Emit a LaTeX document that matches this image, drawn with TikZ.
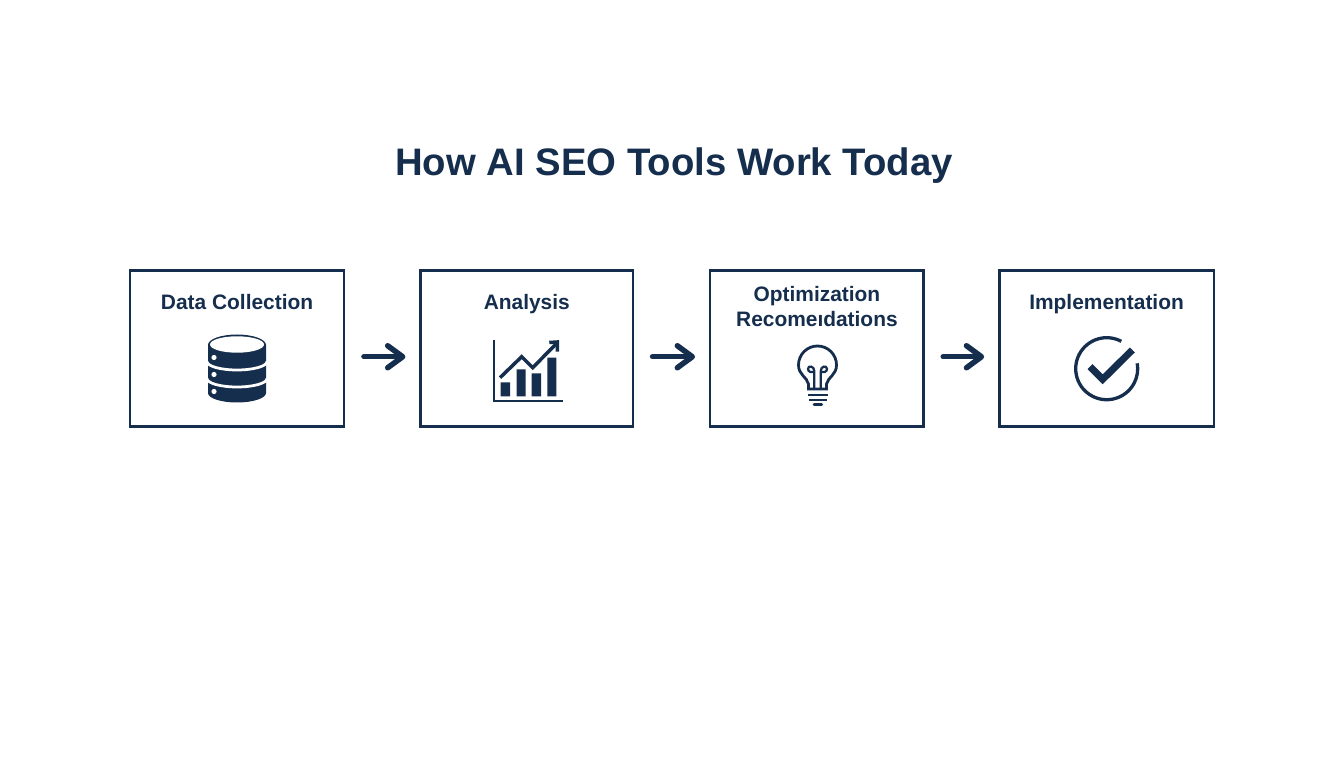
\documentclass[tikz,border=0pt]{standalone}
\usepackage{fontspec}
\setmainfont{Liberation Sans}
\usetikzlibrary{positioning,arrows.meta}
\definecolor{navy}{HTML}{162E4D}

\begin{document}
\begin{tikzpicture}[x=0.2mm,y=-0.2mm]
\tikzstyle{box}=[rectangle, draw=navy, line width=0.48mm, minimum width=42.85mm, minimum height=31.25mm]
\tikzstyle{heading}=[text=navy, font=\fontsize{21.8}{25}\selectfont\bfseries]
\tikzstyle{boxtext}=[text=navy, inner sep=0pt, align=center, font=\fontsize{11.9}{14.2}\selectfont\bfseries]
\tikzstyle{connect}=[draw=navy, line width=1.1mm, line cap=round, -{Straight Barb[length=3mm,width=4.4mm,round]}, shorten <=3.7mm, shorten >=2.8mm]
\tikzstyle{thin}=[draw=navy, line width=0.56mm]
\useasboundingbox (0,0) rectangle (1344,768);
\fill[white] (0,0) rectangle (1344,768);
  \node[heading] (title) at (674,166) {How AI SEO Tools Work Today};
  \node[box] (data) at (237.1,348.5) { };
  \node[box, minimum width=42.45mm] (analysis) [right =14.8mm of data] { };
  \node[box, minimum width=42.65mm] (optim) [right =15mm of analysis] { };
  \node[box] (impl) [right =14.7mm of optim] { };
  \node[boxtext] (datat) [below =5mm of data.north] {Data Collection};
  \node[boxtext] (analysist) [below =5mm of analysis.north] {Analysis};
  \node[boxtext] (optimt) [below =3.3mm of optim.north] {Optimization\\Recomeıdations};
  \node[boxtext] (implt) [below =5mm of impl.north] {Implementation};
  \draw[connect] ([yshift=-1.65mm]data.east) -- ([yshift=-1.65mm]analysis.west);
  \draw[connect] ([yshift=-1.65mm]analysis.east) -- ([yshift=-1.65mm]optim.west);
  \draw[connect] ([yshift=-1.65mm]optim.east) -- ([yshift=-1.65mm]impl.west);
  % database
  \fill[navy] (208,345) -- (208,393) arc[start angle=180, end angle=0, x radius=29, y radius=9.5] -- (266,345) arc[start angle=0, end angle=-180, x radius=29, y radius=10.5] -- cycle;
  \fill[white] (237,344.5) ellipse[x radius=27, y radius=8.2];
  \draw[white, line width=0.55mm] (207,361.5) arc[start angle=180, end angle=0, x radius=30, y radius=8.5];
  \draw[white, line width=0.55mm] (207,378.5) arc[start angle=180, end angle=0, x radius=30, y radius=8.5];
  \fill[white] (214,357.5) circle[radius=2.6] (214,374.5) circle[radius=2.6] (214,391.5) circle[radius=2.6];
  % chart
  \draw[thin, line cap=rect] (494,341) -- (494,401) -- (562,401);
  \fill[navy] (500.7,382.3) rectangle (510,396.5) (516.7,369.3) rectangle (525.7,396.5)
    (531.7,373.3) rectangle (541,396.5) (547.3,357.7) rectangle (556.3,396.5);
  \draw[navy, line width=0.7mm] (500,377.7) -- (521.7,356.7) -- (532.7,367.7) -- (556.7,343.3);
  \draw[navy, line width=0.7mm] (549.3,342.5) -- (557.3,342) -- (557.3,351.7);
  % bulb
  \draw[thin] (808.5,389) -- (808.5,384) .. controls (807,377) and (798.5,375) .. (798.5,365) arc[start angle=180, end angle=360, radius=19] .. controls (836.5,375) and (828,377) .. (826.5,384) -- (826.5,389) -- cycle;
  \draw[navy, line width=0.45mm] (814.3,388) -- (814.3,371) .. controls (814.3,366) and (808,365) .. (808,369) .. controls (808,372) and (812,373) .. (814.3,372)
    (820.7,388) -- (820.7,371) .. controls (820.7,366) and (827,365) .. (827,369) .. controls (827,372) and (823,373) .. (820.7,372);
  \draw[thin] (808.3,395) -- (827.7,395) (809,400) -- (827,400);
  \draw[thin, line width=0.6mm, line cap=round] (814,404.7) -- (821.5,404.7);
  % check
  \draw[navy, line width=0.66mm] (1106.7,368.7) ++(-62:31) arc[start angle=-62, end angle=-370, radius=31];
  \draw[navy, line width=1.4mm] (1090,366.7) -- (1102.7,379.3) -- (1132.3,350);
\end{tikzpicture}
\end{document}
